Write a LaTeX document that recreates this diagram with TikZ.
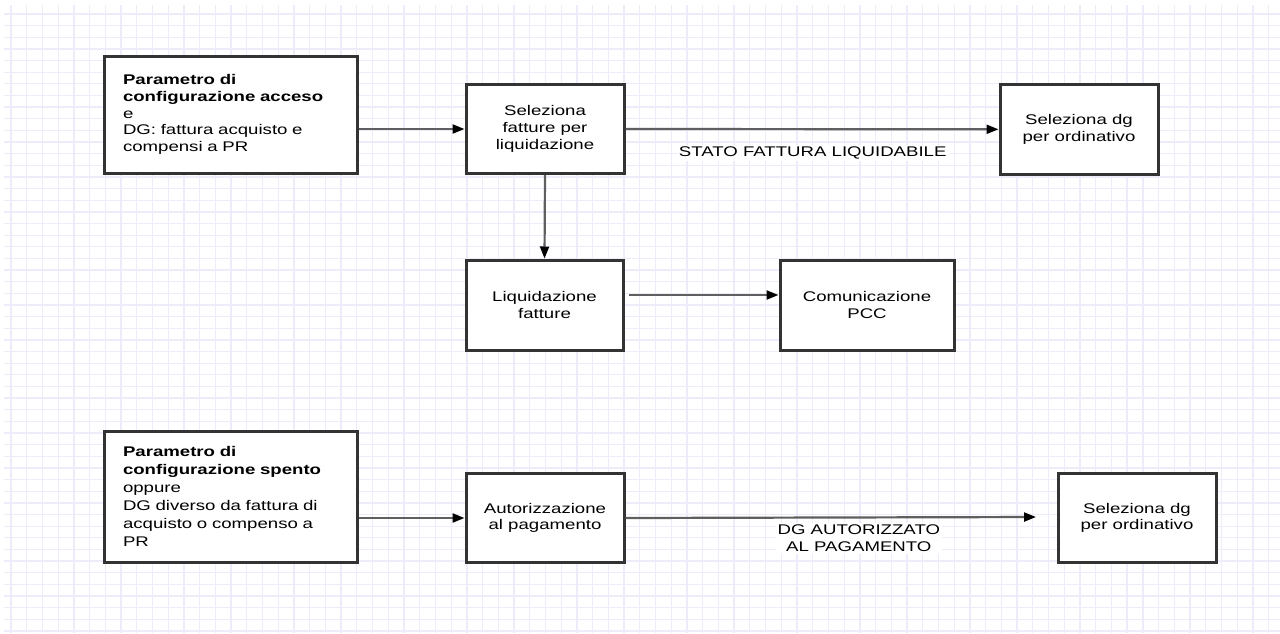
\documentclass[tikz,border=0pt]{standalone}
\usepackage{fontspec}
\setmainfont{Liberation Sans}[FakeStretch=1.33]
\usetikzlibrary{arrows.meta}
\definecolor{gridc}{RGB}{236,236,251}
\definecolor{boxc}{RGB}{51,51,51}
\definecolor{linec}{RGB}{95,95,95}
\begin{document}
\begin{tikzpicture}[x=1pt,y=-1pt,
  gridline/.style={draw=gridc,line width=1.3pt},
  box/.style={draw=boxc,line width=3pt,fill=white,inner sep=0pt,align=center,font=\fontsize{14}{16.7}\selectfont},
  arr/.style={draw=linec,line width=2.2pt,-{Triangle[length=12pt,width=9pt,color=black]}},
  lbl/.style={fill=white,inner sep=2pt,align=center,font=\fontsize{14}{17}\selectfont}]
\useasboundingbox (0,0) rectangle (1280,633);
\fill[white] (0,0) rectangle (1280,633);
% grid
\foreach \k in {0,...,80} {\draw[gridline] ({11+15.72*\k},5) -- ({11+15.72*\k},633);}
\foreach \k in {0,...,53} {\draw[gridline] (4,{14+11.64*\k}) -- (1280,{14+11.64*\k});}
% upper flow
\node[box,minimum width=253,minimum height=117,text width=215,align=left] (A) at (230.5,114.5)
  {\textbf{Parametro di}\\\textbf{configurazione acceso}\\e\\DG: fattura acquisto e\\compensi a PR};
\node[box,minimum width=158,minimum height=89] (B) at (545,129) {Seleziona\\fatture per\\liquidazione};
\node[box,minimum width=158,minimum height=89.5] (C) at (1079,129.3) {Seleziona dg\\per ordinativo};
\node[box,minimum width=157,minimum height=90] (D) at (544.5,305) {Liquidazione\\fatture};
\node[box,minimum width=174,minimum height=90] (E) at (867,305) {Comunicazione\\PCC};
% lower flow
\node[box,minimum width=253,minimum height=130.5,text width=215,align=left,font=\fontsize{14}{18}\selectfont] (A2) at (230.5,496.75)
  {\textbf{Parametro di}\\\textbf{configurazione spento}\\oppure\\DG diverso da fattura di\\acquisto o compenso a\\PR};
\node[box,minimum width=158,minimum height=89] (B2) at (545,518) {Autorizzazione\\al pagamento};
\node[box,minimum width=158,minimum height=89] (C2) at (1137,518) {Seleziona dg\\per ordinativo};
% labels
\node[lbl] (L1) at (812.7,153) {STATO FATTURA LIQUIDABILE};
\node[lbl] (L2) at (858.8,538.5) {DG AUTORIZZATO\\AL PAGAMENTO};
% connectors
\coordinate (dstart) at (629,295);
\coordinate (bend) at (1036,517);
\draw[arr] (A.east |- B.west) -- (B.west);
\draw[arr] (B.east) -- (C.west);
\draw[arr] (B.south) -- (D.north);
\draw[arr] (dstart) -- (dstart -| E.west);
\draw[arr] (A2.east |- B2.west) -- (B2.west);
\draw[arr] (B2.east) -- (bend);
\end{tikzpicture}
\end{document}
